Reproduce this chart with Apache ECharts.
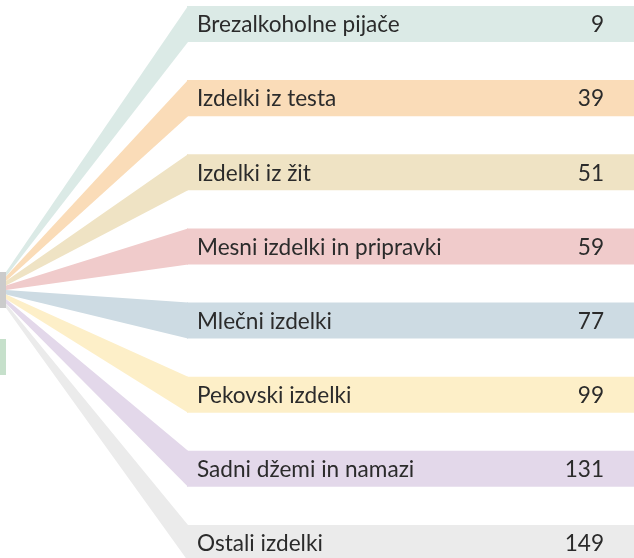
<!DOCTYPE html>
<html>
<head>
<meta charset="utf-8">
<script src="https://cdn.jsdelivr.net/npm/echarts@6/dist/echarts.min.js"></script>
<style>
    html, body { margin: 0; padding: 0; background: #fff; }
    #chart { width: 634px; height: 558px; }
</style>
</head>
<body>
<div id="chart"></div>
<script>
// categories on the right, with their counts
const categories = [
    'Brezalkoholne pijače',
    'Izdelki iz testa',
    'Izdelki iz žit',
    'Mesni izdelki in pripravki',
    'Mlečni izdelki',
    'Pekovski izdelki',
    'Sadni džemi in namazi',
    'Ostali izdelki'
];
const values = [9, 39, 51, 59, 77, 99, 131, 149];
const colors = ['#dbeae6', '#fadcb8', '#efe3c4', '#f0cbcb', '#cddbe3', '#fdefc8', '#e3d8ea', '#ebebeb'];

// the two (cut off) source nodes on the left
const sourceColors = ['#cbcbcb', '#c6e0cb'];

// layout, px
const nodeX = 6;          // right edge of the source nodes
const barX = 187;         // where the bands start
const sourceTops = [272, 339];
const nodeH = 36;
const font = '22.6px Lato';

const chart = echarts.init(document.getElementById('chart'));

function renderBand(params, api) {
    const idx = api.value(1);
    const cs = params.coordSys;
    const center = api.coord([0, idx])[1];
    const band = api.size([0, 1])[1];
    const h = band * 0.486;
    const top = center - h / 2;
    const bottom = center + h / 2;
    const bx = cs.x + barX;
    const sx = cs.x + nodeX;
    const step = nodeH / categories.length;
    const sy0 = sourceTops[0] + step * idx;
    const sy1 = sy0 + step;
    const color = colors[idx];
    return {
        type: 'group',
        children: [
            {
                type: 'polygon',
                shape: { points: [[sx, sy0], [bx + 1, top], [bx + 1, bottom], [sx, sy1]] },
                style: { fill: color }
            },
            {
                type: 'rect',
                shape: { x: bx, y: top, width: cs.x + cs.width - bx, height: h },
                style: { fill: color }
            },
            {
                type: 'text',
                x: bx + 10,
                y: center + 1,
                style: {
                    text: categories[idx],
                    fill: '#2b2b2b',
                    font: font,
                    verticalAlign: 'middle',
                    align: 'left'
                }
            },
            {
                type: 'text',
                x: cs.x + cs.width - 30,
                y: center + 1,
                style: {
                    text: String(api.value(2)),
                    fill: '#2b2b2b',
                    font: font,
                    verticalAlign: 'middle',
                    align: 'right'
                }
            }
        ]
    };
}

function renderSource(params, api) {
    const i = params.dataIndex;
    const cs = params.coordSys;
    return {
        type: 'rect',
        shape: { x: cs.x - 10, y: sourceTops[i], width: nodeX + 10, height: nodeH },
        style: { fill: sourceColors[i] }
    };
}

const options = {
    animation: false,
    grid: { left: 0, right: 0, top: 0, bottom: 0 },
    xAxis: { type: 'value', min: 0, max: 1, show: false },
    // row i sits at 24 + 74.14 * i px
    yAxis: { type: 'value', inverse: true, min: -0.3237, max: 7.2026, show: false },
    series: [
        {
            type: 'custom',
            renderItem: renderBand,
            encode: { x: 0, y: 1 },
            data: values.map((v, i) => [0, i, v]),
            clip: false
        },
        {
            type: 'custom',
            renderItem: renderSource,
            encode: { x: 0, y: 1 },
            data: sourceColors.map((c, i) => [0, i]),
            clip: false
        }
    ]
};

chart.setOption(options);
</script>
</body>
</html>
